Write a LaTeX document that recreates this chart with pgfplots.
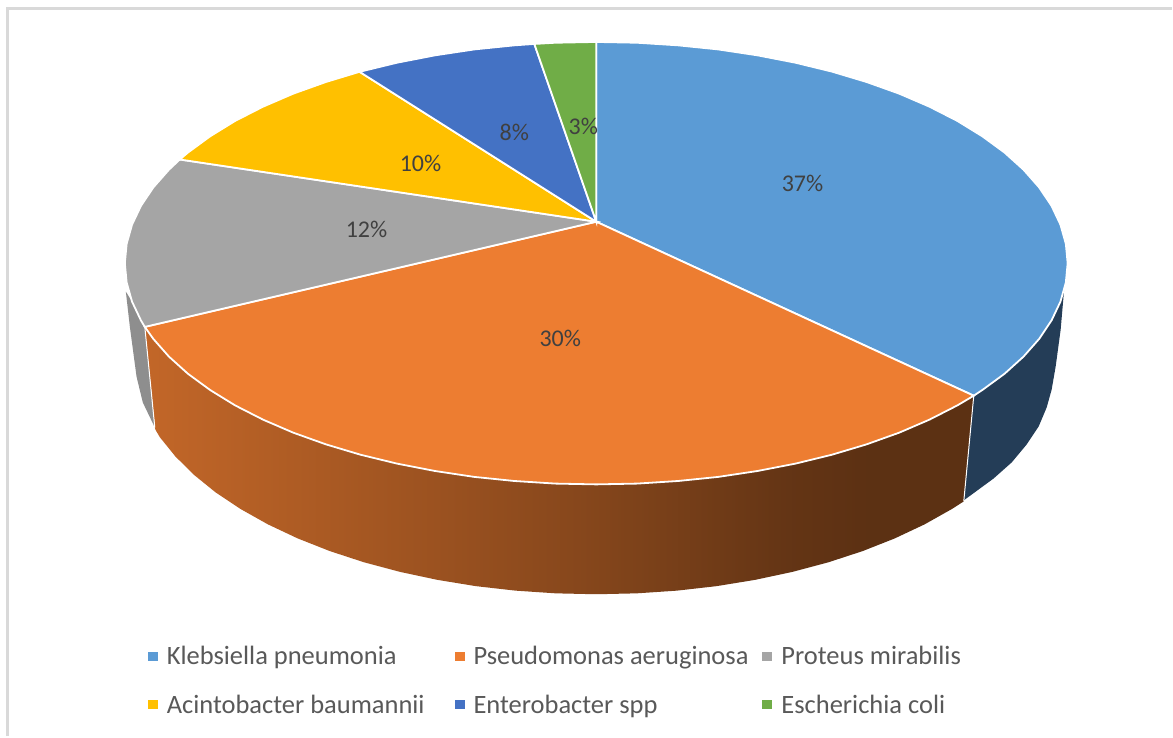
\documentclass[border=0pt]{standalone}
\usepackage{pgfplots}
\pgfplotsset{compat=1.18}
\usepackage{fontspec}
\setmainfont{Carlito}
\definecolor{kp}{HTML}{5B9BD5}
\definecolor{pa}{HTML}{ED7D31}
\definecolor{pm}{HTML}{A5A5A5}
\definecolor{ab}{HTML}{FFC000}
\definecolor{es}{HTML}{4472C4}
\definecolor{ec}{HTML}{70AD47}
\definecolor{kpd}{HTML}{243D57}
\definecolor{pmd}{HTML}{8E8E8E}
\definecolor{lab}{HTML}{404040}
\definecolor{legt}{HTML}{595959}
\definecolor{frm}{HTML}{D9D9D9}
\pgfdeclarehorizontalshading{oside}{100bp}{
  color(0bp)=(pa!82!black);
  color(25bp)=(pa!82!black);
  color(40bp)=(pa!68!black);
  color(52bp)=(pa!56!black);
  color(64bp)=(pa!42!black);
  color(68.5bp)=(pa!39!black);
  color(100bp)=(pa!39!black)}
\begin{document}
\begin{tikzpicture}
\begin{axis}[
  scale only axis, width=1173pt, height=737pt,
  xmin=0, xmax=1173, ymin=0, ymax=737, y dir=reverse,
  hide axis, clip=false,
  legend columns=3,
  legend cell align=left,
  legend style={draw=none, fill=none, at={(axis cs:148,645)}, anchor=north west,
    font=\fontsize{26.5}{30}\selectfont\color{legt},
    row sep=25pt, inner sep=0pt, outer sep=0pt,
    /tikz/column 1/.style={column sep=7pt},
    /tikz/column 2/.style={column sep=28pt},
    /tikz/column 3/.style={column sep=7pt},
    /tikz/column 4/.style={column sep=12pt},
    /tikz/column 5/.style={column sep=7pt}},
  legend image code/.code={\fill[#1,draw=none] (0pt,-4.5pt) rectangle (10pt,4.5pt);},
]
% page background, so that the page is the whole axis rectangle
\addplot[draw=none, fill=white, forget plot] coordinates {(0,0) (1173,0) (1173,737) (0,737)} -- cycle;
% frame
\addplot[frm, line width=3pt, forget plot] coordinates {(8,737) (8,9) (1173,9)};
% side walls
\addplot[pmd, fill=pmd, draw=none, forget plot] coordinates {(145,327.3) (141.1,320.8) (132.2,302) (126,292) (130,327) (136.7,377) (143,403) (155,428)} -- cycle;
\addplot[kpd, fill=kpd, draw=none, forget plot] coordinates {(975,396.2) (983.6,390.5) (1005.8,374.25) (1024.8,357.1) (1040.5,339.3) (1052.9,320.8) (1061.8,302) (1065.4,291) (1062,330) (1057,367) (1053,390) (1048,408) (1040,427) (1028,445) (1013,463) (995,479) (965,501)} -- cycle;
\addplot[draw=none, shade, shading=oside, forget plot] coordinates {
 (975,396.2) (958.6,405.9) (930.8,420.1) (900.4,433.2) (867.7,444.9) (833,455.3) (796.5,464.2) (758.4,471.6) (719.2,477.5) (679,481.6) (638.1,484.2) (597,485)
 (555.9,484.2) (515,481.6) (474.8,477.5) (435.6,471.6) (397.5,464.2) (361,455.3) (326.3,444.9) (293.6,433.2) (263.2,420.1) (235.4,405.9) (210.4,390.5) (188.2,374.25) (169.2,357.1) (153.5,339.3) (145,327.3)
 (155.5,430) (160,437.7) (175.6,457) (194.3,475.5) (216,493.1) (240.8,509.6) (268.2,525) (298.1,539.1) (330.3,551.8) (364.5,563) (400.5,572.6) (438,580.6) (476.6,586.9) (516.3,591.4) (556.5,594.1) (597,595)
 (637.5,594.1) (677.7,591.4) (717.4,586.9) (756,580.6) (793.5,572.6) (829.5,563) (863.7,551.8) (895.9,539.1) (925.8,525) (953.2,509.6) (965,502)} -- cycle;
\addplot[white, line width=1pt, forget plot] coordinates {(975,396.2) (965,502)};
\addplot[white, line width=1pt, forget plot] coordinates {(145,327.3) (155,428)};
% top slices
\addplot[fill=kp, draw=white, line width=1.8pt] coordinates {(597,222) (597,42) (638.1,42.8) (679,45.4) (719.2,49.5) (758.4,55.4) (796.5,62.8) (833,71.7) (867.7,82.1) (900.4,93.8) (930.8,106.9) (958.6,121.1) (983.6,136.5) (1005.8,152.75) (1024.8,169.9) (1040.5,187.7) (1052.9,206.2) (1061.8,225) (1067.2,244.2) (1069,263.5) (1067.2,282.8) (1061.8,302) (1052.9,320.8) (1040.5,339.3) (1024.8,357.1) (1005.8,374.25) (983.6,390.5) (975,396.2)} -- cycle;
\addlegendentry{Klebsiella pneumonia}
\addplot[fill=pa, draw=white, line width=1.8pt] coordinates {(597,222) (975,396.2) (958.6,405.9) (930.8,420.1) (900.4,433.2) (867.7,444.9) (833,455.3) (796.5,464.2) (758.4,471.6) (719.2,477.5) (679,481.6) (638.1,484.2) (597,485) (555.9,484.2) (515,481.6) (474.8,477.5) (435.6,471.6) (397.5,464.2) (361,455.3) (326.3,444.9) (293.6,433.2) (263.2,420.1) (235.4,405.9) (210.4,390.5) (188.2,374.25) (169.2,357.1) (153.5,339.3) (145,327.3)} -- cycle;
\addlegendentry{Pseudomonas aeruginosa}
\addplot[fill=pm, draw=white, line width=1.8pt] coordinates {(597,222) (145,327.3) (141.1,320.8) (132.2,302) (126.8,282.8) (125,263.5) (126.8,244.2) (132.2,225) (141.1,206.2) (153.5,187.7) (169.2,169.9) (180,159.7)} -- cycle;
\addlegendentry{Proteus mirabilis}
\addplot[fill=ab, draw=white, line width=1.8pt] coordinates {(597,222) (180,159.7) (188.2,152.75) (210.4,136.5) (235.4,121.1) (263.2,106.9) (293.6,93.8) (326.3,82.1) (360,71.9)} -- cycle;
\addlegendentry{Acintobacter baumannii}
\addplot[fill=es, draw=white, line width=1.8pt] coordinates {(597,222) (360,71.9) (397.5,62.8) (435.6,55.4) (474.8,49.5) (515,45.4) (535,44)} -- cycle;
\addlegendentry{Enterobacter spp}
\addplot[fill=ec, draw=white, line width=1.8pt] coordinates {(597,222) (535,44) (555.9,42.8) (597,42)} -- cycle;
\addlegendentry{Escherichia coli}
% value labels
\node[text=lab, font=\fontsize{24}{28}\selectfont] at (axis cs:803.5,184) {37\%};
\node[text=lab, font=\fontsize{24}{28}\selectfont] at (axis cs:561,339) {30\%};
\node[text=lab, font=\fontsize{24}{28}\selectfont] at (axis cs:367,230) {12\%};
\node[text=lab, font=\fontsize{24}{28}\selectfont] at (axis cs:421,164) {10\%};
\node[text=lab, font=\fontsize{24}{28}\selectfont] at (axis cs:515,133) {8\%};
\node[text=lab, font=\fontsize{24}{28}\selectfont] at (axis cs:584,127) {3\%};
\end{axis}
\end{tikzpicture}
\end{document}
